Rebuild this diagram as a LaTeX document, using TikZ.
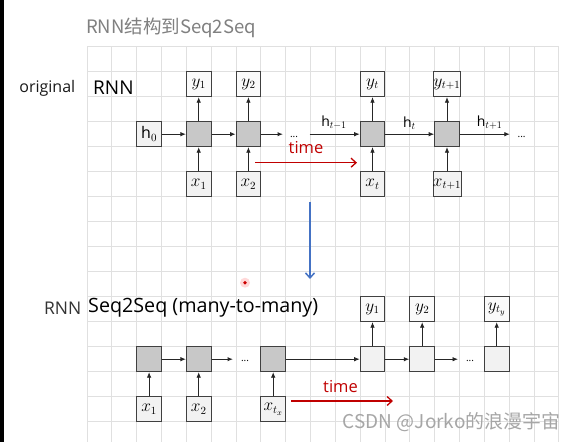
\documentclass[tikz,border=0pt]{standalone}
\usepackage{fontspec}
\setmainfont{Open Sans}
\newfontfamily\cjk{Noto Sans CJK SC}
\usetikzlibrary{arrows.meta}
\definecolor{gridc}{RGB}{224,224,224}
\definecolor{hidfill}{RGB}{200,200,200}
\definecolor{iofill}{RGB}{242,242,242}
\definecolor{yfill}{RGB}{250,250,250}
\definecolor{boxline}{RGB}{64,64,64}
\definecolor{tred}{RGB}{192,0,0}
\definecolor{tblue}{RGB}{68,114,196}
\begin{document}
\begin{tikzpicture}[x=1pt,y=-1pt,
  gridline/.style={draw=gridc, line width=0.8pt},
  cellbox/.style={draw=boxline, line width=0.9pt, minimum width=24.8pt, minimum height=25pt, inner sep=0pt, font=\fontsize{16}{16}\selectfont},
  hid/.style={cellbox, fill=hidfill},
  dec/.style={cellbox, fill=iofill},
  xin/.style={cellbox, fill=iofill},
  yout/.style={cellbox, fill=yfill},
  arr/.style={-{Latex[length=5.5pt,width=4.5pt]}, line width=0.8pt, black!85},
  harr/.style={-{Latex[length=5.5pt,width=4.5pt]}, line width=1.2pt, black!85},
  timearr/.style={-{Straight Barb[length=5pt,width=9pt]}, line width=1.3pt, tred},
  hlab/.style={font=\fontsize{14}{14}\selectfont, inner sep=0pt},
  dots/.style={font=\fontsize{10}{10}\selectfont, inner sep=0pt},
  timelab/.style={font=\fontsize{16.5}{16.5}\selectfont, text=tred, inner sep=0pt}
]
\fill[white] (0,0) rectangle (576,442);
\useasboundingbox (0,0) rectangle (576,442);
\fill[black] (0,0) rectangle (4,442);
% grid
\foreach \k in {0,...,19} \draw[gridline] ({87+24.83*\k},46.7) -- ({87+24.83*\k},442);
\foreach \j in {0,...,15} \draw[gridline] (87,{46.7+25*\j}) -- (558.7,{46.7+25*\j});
% titles
\node[anchor=west, inner sep=0pt, text=black!50, font=\cjk\fontsize{18.5}{18.5}\selectfont] (title) at (86,28) {RNN结构到Seq2Seq};
\node[inner sep=0pt, text=black!90, font=\fontsize{16}{16}\selectfont] (orig) at (47.3,88) {original};
\node[anchor=west, inner sep=0pt, text=black, font=\fontsize{19}{19}\selectfont] (rnn1) at (93,88) {RNN};
\node[inner sep=0pt, text=black!80, font=\fontsize{17.5}{17.5}\selectfont] (rnn2) at (62.7,308) {RNN};
\node[anchor=west, inner sep=0pt, text=black, font=\fontsize{19.7}{19.7}\selectfont] (s2s) at (88,308) {Seq2Seq (many-to-many)};
% ---- row 1 ----
\node[xin] (h0) at (149.1,134.2) {$\mathrm{h}_0$};
\node[hid] (c1) at (198.7,134.2) {};
\node[hid] (c2) at (248.4,134.2) {};
\node[hid] (ct) at (372.5,134.2) {};
\node[hid] (ct1) at (447.0,134.2) {};
\node[yout] (y1) at (198.7,84.2) {$y_1$};
\node[yout] (y2) at (248.4,84.2) {$y_2$};
\node[yout] (yt) at (372.5,84.2) {$y_t$};
\node[yout] (yt1) at (447.0,84.2) {$y_{t+1}$};
\node[xin] (x1) at (198.7,184.2) {$x_1$};
\node[xin] (x2) at (248.4,184.2) {$x_2$};
\node[xin] (xt) at (372.5,184.2) {$x_t$};
\node[xin] (xt1) at (447.0,184.2) {$x_{t+1}$};
\coordinate (c2end) at (283,134.2);
\coordinate (htm1start) at (309.6,134.2);
\coordinate (ct1end) at (509.8,134.2);
\draw[arr] (h0) -- (c1);
\draw[arr] (c1) -- (c2);
\draw[harr] (c2) -- (c2end);
\draw[arr] (htm1start) -- (ct);
\draw[arr] (ct) -- (ct1);
\draw[arr] (ct1) -- (ct1end);
\node[hlab] (lhtm1) at (334,123) {$\mathrm{h}_{t-1}$};
\node[hlab] (lht) at (409.5,123) {$\mathrm{h}_{t}$};
\node[hlab] (lht1) at (489.6,123) {$\mathrm{h}_{t+1}$};
\node[dots] (d1) at (294,137) {...};
\node[dots] (d2) at (521.6,137) {...};
\foreach \a/\b in {x1/c1,x2/c2,xt/ct,xt1/ct1,c1/y1,c2/y2,ct/yt,ct1/yt1} \draw[arr] (\a) -- (\b);
\coordinate (t1s) at (255,162.7);
\coordinate (t1e) at (357,162.7);
\draw[timearr] (t1s) -- (t1e);
\node[timelab] (time1) at (306,147.7) {time};
% blue arrow
\coordinate (bs) at (310,201.7);
\coordinate (be) at (310,279);
\draw[-{Straight Barb[length=5pt,width=9pt]}, line width=1.5pt, tblue] (bs) -- (be);
% laser dot
\fill[red!25, opacity=0.6] (245,282.7) circle (5);
\fill[red!80!black] (245,282.7) circle (1.8);
% ---- row 2 ----
\node[hid] (e1) at (149.1,359.2) {};
\node[hid] (e2) at (198.7,359.2) {};
\node[hid] (e3) at (273.2,359.2) {};
\node[dec] (q1) at (372.5,359.2) {};
\node[dec] (q2) at (422.2,359.2) {};
\node[dec] (q3) at (496.7,359.2) {};
\node[xin] (ex1) at (149.1,409.2) {$x_1$};
\node[xin] (ex2) at (198.7,409.2) {$x_2$};
\node[xin] (ex3) at (273.2,409.2) {$x_{t_x}$};
\node[yout] (qy1) at (372.5,309.2) {$y_1$};
\node[yout] (qy2) at (422.2,309.2) {$y_2$};
\node[yout] (qy3) at (496.7,309.2) {$y_{t_y}$};
\coordinate (e2end) at (233,359.2);
\coordinate (q2end) at (458,359.2);
\draw[arr] (e1) -- (e2);
\draw[harr] (e2) -- (e2end);
\draw[arr] (e3) -- (q1);
\draw[harr] (q1) -- (q2);
\draw[arr] (q2) -- (q2end);
\node[dots] (d3) at (245,361) {...};
\node[dots] (d4) at (470,361) {...};
\foreach \a/\b in {ex1/e1,ex2/e2,ex3/e3,q1/qy1,q2/qy2,q3/qy3} \draw[arr] (\a) -- (\b);
\coordinate (t2s) at (291,401);
\coordinate (t2e) at (393,401);
\draw[timearr] (t2s) -- (t2e);
\node[timelab] (time2) at (340.5,386.7) {time};
% watermark
\node[inner sep=0pt, text=black!35, font=\cjk\fontsize{19}{19}\selectfont] (wm) at (451.7,421.7) {CSDN @Jorko的浪漫宇宙};
\end{tikzpicture}
\end{document}
